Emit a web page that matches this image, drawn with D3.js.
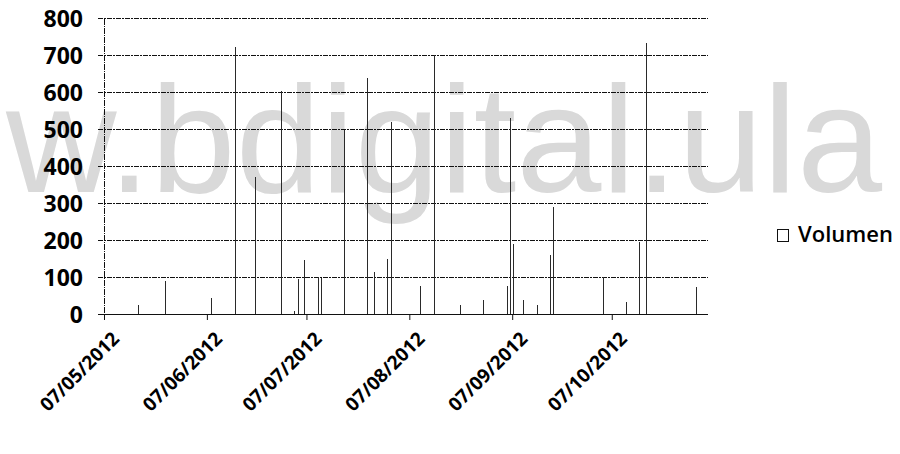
<!DOCTYPE html>
<html>
<head>
<meta charset="utf-8">
<script src="https://cdn.jsdelivr.net/npm/d3@7"></script>
<style>
  html, body { margin: 0; padding: 0; background: #fff; }
  svg { display: block; }
</style>
</head>
<body>
<svg id="chart" width="900" height="454"></svg>
<script>
// ---- data ----
const dates = [
  "17/05/2012","25/05/2012","08/06/2012","15/06/2012","21/06/2012","29/06/2012",
  "03/07/2012","04/07/2012","06/07/2012","10/07/2012","11/07/2012","18/07/2012",
  "25/07/2012","27/07/2012","31/07/2012","01/08/2012","10/08/2012","14/08/2012",
  "22/08/2012","29/08/2012","05/09/2012","06/09/2012","07/09/2012","10/09/2012",
  "14/09/2012","18/09/2012","19/09/2012","04/10/2012","11/10/2012","15/10/2012",
  "17/10/2012","01/11/2012"
];
const volumen = [
  25, 88, 43, 722, 370, 605,
  8, 95, 146, 100, 98, 497,
  640, 114, 150, 520, 75, 700,
  24, 38, 76, 530, 190, 38,
  24, 160, 290, 99, 33, 195,
  735, 74
];
const xTickLabels = ["07/05/2012","07/06/2012","07/07/2012","07/08/2012","07/09/2012","07/10/2012"];
const yTicks = [0,100,200,300,400,500,600,700,800];
const xDomain = ["07/05/2012","05/11/2012"];
const seriesName = "Volumen";
const watermark = "w.bdigital.ula";

// ---- drawing ----
(function () {
const parse = d3.timeParse("%d/%m/%Y");
const svg = d3.select("#chart");
const pLeft = 104, pRight = 708, pTop = 18.5, pBottom = 314;

const x = d3.scaleTime().domain(xDomain.map(parse)).range([pLeft, pRight]);
const y = d3.scaleLinear().domain([0, 800]).range([pBottom, pTop]);
const dayW = x(parse("08/05/2012")) - x(parse("07/05/2012"));

// watermark
svg.append("text")
  .attr("x", 6).attr("y", 192)
  .attr("font-family", "Liberation Sans, Arial, sans-serif")
  .attr("font-size", 153)
  .attr("fill", "#d9d9d9")
  .text(watermark);

const ink = "#111";
const dash = "5,1,2,1";

// horizontal gridlines (with outward tick marks)
svg.append("g").selectAll("line").data(yTicks).join("line")
  .attr("x1", pLeft - 6).attr("x2", pRight)
  .attr("y1", d => y(d)).attr("y2", d => y(d))
  .attr("stroke", ink).attr("stroke-width", 1)
  .attr("stroke-dasharray", d => d === 0 ? null : dash)
  .attr("shape-rendering", "crispEdges");

// y axis line
svg.append("line")
  .attr("x1", pLeft).attr("x2", pLeft).attr("y1", pTop).attr("y2", pBottom)
  .attr("stroke", ink).attr("stroke-width", 1).attr("stroke-dasharray", "6,1,1,1")
  .attr("shape-rendering", "crispEdges");

// y labels
const yAxis = d3.axisLeft(y).tickValues(yTicks).tickSize(0).tickPadding(0);
const gy = svg.append("g").attr("transform", `translate(${pLeft - 21},0)`).call(yAxis);
gy.select(".domain").remove();
gy.selectAll("text")
  .attr("font-family", "Open Sans, sans-serif")
  .attr("font-weight", 700)
  .attr("font-size", 23)
  .attr("fill", "#000")
  .attr("dy", "0.36em");

// x axis ticks + labels
const tickDates = xTickLabels.map(parse);
const xAxis = d3.axisBottom(x).tickValues(tickDates).tickSize(6).tickFormat(d3.timeFormat("%d/%m/%Y"));
const gx = svg.append("g").attr("transform", `translate(0,${pBottom})`).call(xAxis);
gx.select(".domain").remove();
gx.selectAll(".tick line").attr("stroke", ink);
gx.selectAll("text")
  .attr("font-family", "Open Sans, sans-serif")
  .attr("font-weight", 700)
  .attr("font-size", 19)
  .attr("fill", "#000")
  .attr("text-anchor", "end")
  .attr("dy", null)
  .attr("y", 0)
  .attr("transform", "translate(16,26) rotate(-45)");

// bars
const bw = 1;
svg.append("g").selectAll("rect").data(dates.map((d, i) => ({ date: parse(d), v: volumen[i] }))).join("rect")
  .attr("x", d => Math.round(x(d.date) + dayW / 2 - bw / 2))
  .attr("width", bw)
  .attr("y", d => y(d.v))
  .attr("height", d => y(0) - y(d.v))
  .attr("fill", "#2a2a2a")
  .attr("shape-rendering", "crispEdges");

// legend
const lg = svg.append("g").attr("transform", "translate(777,229)");
lg.append("rect").attr("x", 0.5).attr("y", 0.5).attr("width", 11).attr("height", 12)
  .attr("fill", "#fff").attr("stroke", ink).attr("stroke-width", 1);
lg.append("text").attr("x", 21).attr("y", 13)
  .attr("font-family", "Open Sans, sans-serif")
  .attr("font-weight", 600)
  .attr("font-size", 22)
  .attr("fill", "#000")
  .text(seriesName);
})();
</script>
</body>
</html>
